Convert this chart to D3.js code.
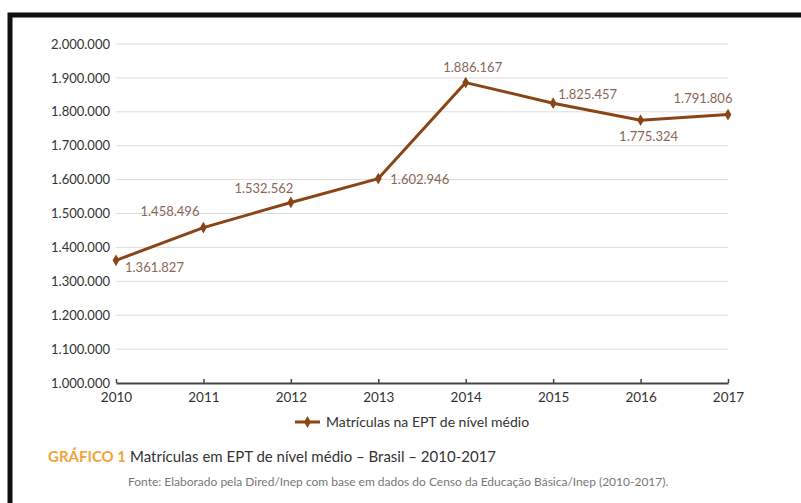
<!DOCTYPE html>
<html>
<head>
<meta charset="utf-8">
<script src="https://cdn.jsdelivr.net/npm/d3@7"></script>
<style>
  body { margin: 0; background: #fff; }
  svg { display: block; }
</style>
</head>
<body>
<div id="chart"></div>
<script>
// Data
const years = ['2010', '2011', '2012', '2013', '2014', '2015', '2016', '2017'];
const matriculas = [1361827, 1458496, 1532562, 1602946, 1886167, 1825457, 1775324, 1791806];
const yTicks = [1000000, 1100000, 1200000, 1300000, 1400000, 1500000, 1600000, 1700000, 1800000, 1900000, 2000000];
const seriesName = 'Matrículas na EPT de nível médio';
const captionLabel = 'GRÁFICO 1';
const captionText = 'Matrículas em EPT de nível médio – Brasil – 2010-2017';
const sourceText = 'Fonte: Elaborado pela Dired/Inep com base em dados do Censo da Educação Básica/Inep (2010-2017).';

// label placement next to each point [dx, dy, anchor]
const labelOffsets = [
  [9, 7, 'start'], [-4, -16, 'end'], [-27, -14, 'middle'], [12, 1, 'start'],
  [7, -15, 'middle'], [5, -9, 'start'], [8, 16, 'middle'], [-25, -16, 'middle']
];

// Config
const width = 801;
const height = 503;
const margin = {top: 44, right: 73, bottom: 120, left: 116};
const font = 'Lato, "Open Sans", sans-serif';
const lineColor = '#8a4516';
const labelColor = '#8b6656';

const fmt = d3.formatLocale({decimal: ',', thousands: '.', grouping: [3], currency: ['R$', '']}).format(',.0f');

const x = d3.scalePoint()
  .domain(years)
  .range([margin.left, width - margin.right]);

const y = d3.scaleLinear()
  .domain([1000000, 2000000])
  .range([height - margin.bottom, margin.top]);

const svg = d3.select('#chart').append('svg')
  .attr('width', width)
  .attr('height', height);

// frame
svg.append('rect')
  .attr('x', 10).attr('y', 15)
  .attr('width', 900).attr('height', 600)
  .attr('fill', '#fff')
  .attr('stroke', '#111')
  .attr('stroke-width', 5);

// grid lines
svg.append('g')
  .selectAll('line')
  .data(yTicks.slice(1))
  .join('line')
  .attr('x1', margin.left)
  .attr('x2', width - margin.right)
  .attr('y1', d => y(d))
  .attr('y2', d => y(d))
  .attr('stroke', '#dcdcdc')
  .attr('stroke-width', 1);

// Y-Axis
const yAxis = g => g
  .attr('transform', `translate(${margin.left},0)`)
  .call(d3.axisLeft(y).tickValues(yTicks).tickFormat(fmt).tickSize(0).tickPadding(6))
  .call(g => g.select('.domain').remove())
  .call(g => g.selectAll('text')
    .attr('font-family', font)
    .attr('font-size', 13)
    .attr('fill', '#333'));

svg.append('g').call(yAxis);

// X-Axis
const xAxis = g => g
  .attr('transform', `translate(0,${height - margin.bottom})`)
  .call(d3.axisBottom(x).tickSizeInner(-4).tickSizeOuter(0).tickPadding(9))
  .call(g => g.select('.domain').attr('stroke', '#444').attr('stroke-width', 2))
  .call(g => g.selectAll('.tick line').attr('stroke', '#444').attr('stroke-width', 1.5))
  .call(g => g.selectAll('text')
    .attr('font-family', font)
    .attr('font-size', 13.5)
    .attr('fill', '#333'));

svg.append('g').call(xAxis);

// Line
const points = years.map((d, i) => ({year: d, value: matriculas[i], off: labelOffsets[i]}));

svg.append('path')
  .datum(points)
  .attr('fill', 'none')
  .attr('stroke', lineColor)
  .attr('stroke-width', 3)
  .attr('stroke-linejoin', 'round')
  .attr('d', d3.line().x(d => x(d.year)).y(d => y(d.value)));

const diamond = d3.symbol().type(d3.symbolDiamond).size(40);

svg.append('g')
  .selectAll('path')
  .data(points)
  .join('path')
  .attr('transform', d => `translate(${x(d.year)},${y(d.value)})`)
  .attr('d', diamond)
  .attr('fill', lineColor);

// value labels
svg.append('g')
  .selectAll('text')
  .data(points)
  .join('text')
  .attr('x', d => x(d.year) + d.off[0])
  .attr('y', d => y(d.value) + d.off[1])
  .attr('dy', '0.35em')
  .attr('text-anchor', d => d.off[2])
  .attr('font-family', font)
  .attr('font-size', 13)
  .attr('fill', labelColor)
  .text(d => fmt(d.value));

// Legend
const legend = svg.append('g')
  .attr('transform', 'translate(295,422)');

legend.append('line')
  .attr('x1', 0).attr('x2', 25)
  .attr('stroke', lineColor)
  .attr('stroke-width', 3);

legend.append('path')
  .attr('transform', 'translate(12.5,0)')
  .attr('d', diamond)
  .attr('fill', lineColor);

legend.append('text')
  .attr('x', 31)
  .attr('dy', '0.35em')
  .attr('font-family', font)
  .attr('font-size', 14)
  .attr('fill', '#333')
  .text(seriesName);

// Caption
const caption = svg.append('text')
  .attr('x', 48)
  .attr('y', 457)
  .attr('dy', '0.35em')
  .attr('font-family', font)
  .attr('font-size', 15);

caption.append('tspan')
  .attr('fill', '#f2a43a')
  .attr('font-weight', 'bold')
  .text(captionLabel);

caption.append('tspan')
  .attr('dx', 4)
  .attr('fill', '#333')
  .text(captionText);

svg.append('text')
  .attr('x', 128)
  .attr('y', 482)
  .attr('dy', '0.35em')
  .attr('font-family', font)
  .attr('font-size', 12)
  .attr('fill', '#777')
  .text(sourceText);
</script>
</body>
</html>
